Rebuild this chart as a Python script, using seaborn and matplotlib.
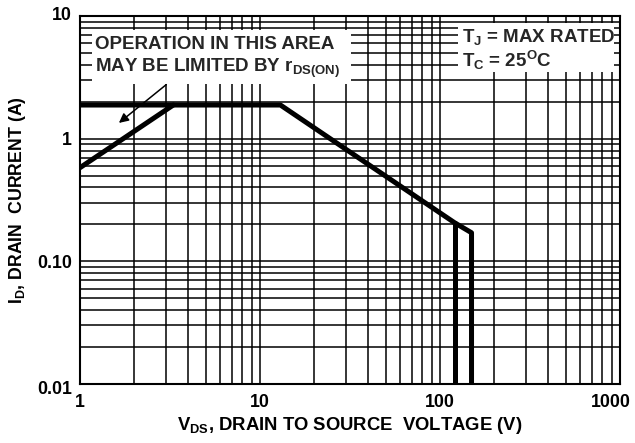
import matplotlib
matplotlib.use("Agg")
import matplotlib.pyplot as plt
import matplotlib.transforms as mtransforms
from matplotlib.patches import Rectangle
import numpy as np
import pandas as pd
import seaborn as sns

# safe operating area
dc_v = [1, 13, 121, 150, 150]
dc_i = [1.88, 1.88, 0.206, 0.171, 0.01]
branch_v = [121, 121]
branch_i = [0.206, 0.01]
rds_v = [1, 3.3]
rds_i = [0.58, 1.88]

x_ticks = [1, 10, 100, 1000]
x_labels = ["1", "10", "100", "1000"]
y_ticks = [0.01, 0.1, 1, 10]
y_labels = ["0.01", "0.10", "1", "10"]

sns.set_theme(style="white")
plt.rcParams["font.family"] = ["Liberation Sans", "DejaVu Sans"]
plt.rcParams["font.weight"] = "bold"
plt.rcParams["mathtext.fontset"] = "custom"
plt.rcParams["mathtext.rm"] = "Liberation Sans:bold"
plt.rcParams["mathtext.it"] = "Liberation Sans:bold"
plt.rcParams["mathtext.bf"] = "Liberation Sans:bold"

fig = plt.figure(figsize=(6.35, 4.43), dpi=100)
ax = fig.add_axes([0.126, 0.1332, 0.850, 0.8307])
ax.set_xscale("log")
ax.set_yscale("log")
ax.set_xlim(1, 1000)
ax.set_ylim(0.01, 10)

ax.grid(which="both", color="black", lw=1.1)
ax.set_axisbelow(True)
for s in ax.spines.values():
    s.set_color("black")
    s.set_linewidth(1.5)

# white boxes behind the notes
ax.add_patch(Rectangle((0.022, 0.815), 0.48, 0.147, transform=ax.transAxes,
                       facecolor="white", edgecolor="none", zorder=2))
ax.add_patch(Rectangle((0.700, 0.847), 0.290, 0.134, transform=ax.transAxes,
                       facecolor="white", edgecolor="none", zorder=2))

df_dc = pd.DataFrame({"v": dc_v, "i": dc_i})
df_br = pd.DataFrame({"v": branch_v, "i": branch_i})
df_rds = pd.DataFrame({"v": rds_v, "i": rds_i})
for d in (df_dc, df_br, df_rds):
    sns.lineplot(data=d, x="v", y="i", sort=False, estimator=None, ax=ax,
                 color="black", lw=3.6, zorder=3)

ax.set_xticks(x_ticks)
ax.set_xticklabels(x_labels)
ax.set_yticks(y_ticks)
ax.set_yticklabels(y_labels)
ax.tick_params(which="both", length=0, labelsize=12.8, colors="black")
ax.tick_params(axis="x", pad=7)
ax.tick_params(axis="y", pad=6)

# edge labels sit a little off their ticks, as in the original
xl = ax.get_xticklabels()
xl[-1].set_transform(xl[-1].get_transform() +
                     mtransforms.ScaledTranslation(-0.09, 0, fig.dpi_scale_trans))
yl = ax.get_yticklabels()
yl[0].set_transform(yl[0].get_transform() +
                    mtransforms.ScaledTranslation(0, -0.04, fig.dpi_scale_trans))
yl[-1].set_transform(yl[-1].get_transform() +
                     mtransforms.ScaledTranslation(0, 0.02, fig.dpi_scale_trans))

ax.set_xlabel("V$_{DS}$, DRAIN TO SOURCE  VOLTAGE (V)", fontsize=13.3,
              fontweight="bold", color="black", labelpad=3)
ax.set_ylabel("I$_{D}$, DRAIN  CURRENT (A)", fontsize=12.8,
              fontweight="bold", color="black", labelpad=6)

ax.text(0.028, 0.922, "OPERATION IN THIS AREA", transform=ax.transAxes,
        fontsize=13.5, fontweight="bold", va="center", ha="left", zorder=4)
ax.text(0.028, 0.857, "MAY BE LIMITED BY r$_{DS(ON)}$", transform=ax.transAxes,
        fontsize=13.5, fontweight="bold", va="center", ha="left", zorder=4)
ax.text(0.707, 0.942, "T$_{J}$ = MAX RATED", transform=ax.transAxes,
        fontsize=13.5, fontweight="bold", va="center", ha="left", zorder=4)
ax.text(0.707, 0.880, "T$_{C}$ = 25$^{O}$C", transform=ax.transAxes,
        fontsize=13.5, fontweight="bold", va="center", ha="left", zorder=4)

ax.annotate("", xy=(1.6, 1.3), xytext=(3.1, 2.85),
            arrowprops=dict(arrowstyle="-|>", color="black", lw=1.1,
                            mutation_scale=14), zorder=4)

fig.savefig("out.png", dpi=100)
